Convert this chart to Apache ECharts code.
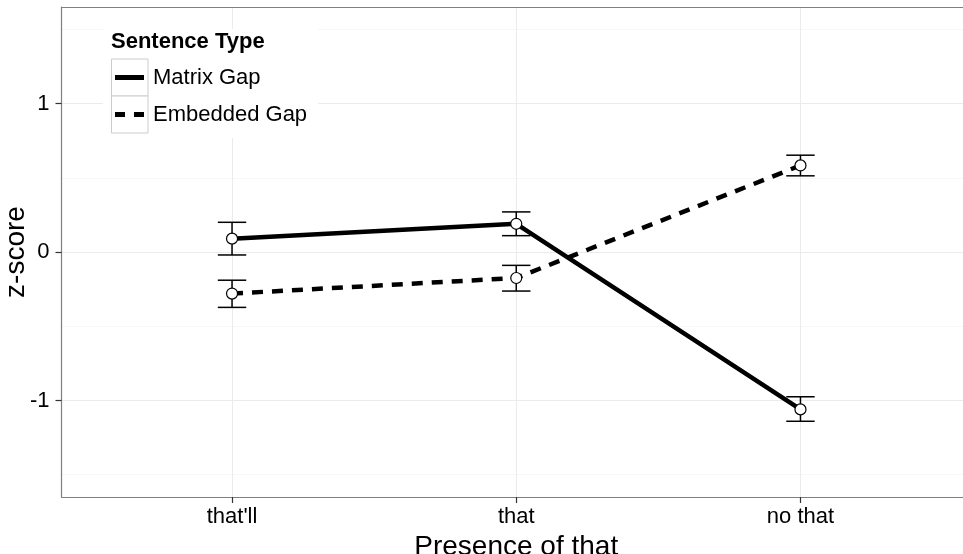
<!DOCTYPE html>
<html>
<head>
<meta charset="utf-8">
<script src="https://cdn.jsdelivr.net/npm/echarts@6/dist/echarts.min.js"></script>
<style>html,body{margin:0;padding:0;background:#fff}#c{width:963px;height:554px}</style>
</head>
<body>
<div id="c"></div>
<script>
// ---- data ----
const categories = ["that'll", "that", "no that"];
const seriesNames = ["Matrix Gap", "Embedded Gap"];
const matrixMean = [0.09, 0.19, -1.06];
const matrixLow = [-0.02, 0.11, -1.14];
const matrixHigh = [0.20, 0.27, -0.975];
const embeddedMean = [-0.28, -0.175, 0.583];
const embeddedLow = [-0.373, -0.263, 0.513];
const embeddedHigh = [-0.19, -0.09, 0.652];
const yTicks = [-1, 0, 1];
const yMinorTicks = [-1.5, -0.5, 0.5, 1.5];
const xTicks = categories.map((c, i) => i);

const FONT = '"Liberation Sans", Arial, Helvetica, sans-serif';
const BORDER = { show: true, onZero: false, lineStyle: { color: '#7f7f7f', width: 1.2 } };

function pts(mean) { return mean.map((v, i) => [i, v]); }
function bars(low, high) { return low.map((v, i) => [i, v, high[i]]); }

function errRender(params, api) {
  const x = api.value(0), lo = api.value(1), hi = api.value(2);
  const pLo = api.coord([x, lo]), pHi = api.coord([x, hi]);
  const cL1 = api.coord([x - 0.05, lo]), cR1 = api.coord([x + 0.05, lo]);
  const cL2 = api.coord([x - 0.05, hi]), cR2 = api.coord([x + 0.05, hi]);
  const st = { stroke: '#000', lineWidth: 1.5 };
  return {
    type: 'group',
    children: [
      { type: 'line', shape: { x1: pLo[0], y1: pLo[1], x2: pHi[0], y2: pHi[1] }, style: st },
      { type: 'line', shape: { x1: cL1[0], y1: cL1[1], x2: cR1[0], y2: cR1[1] }, style: st },
      { type: 'line', shape: { x1: cL2[0], y1: cL2[1], x2: cR2[0], y2: cR2[1] }, style: st }
    ]
  };
}

const chart = echarts.init(document.getElementById('c'), null, { renderer: 'canvas' });
chart.setOption({
  animation: false,
  backgroundColor: '#fff',
  textStyle: { fontFamily: FONT },
  grid: {
    left: 61.5, top: 7, right: -8, bottom: 57,
    show: false, containLabel: false, outerBoundsMode: 'none'
  },
  xAxis: [{
    type: 'value', min: -0.6, max: 2.6, position: 'bottom',
    name: 'Presence of that', nameLocation: 'middle', nameGap: 28,
    nameTextStyle: { fontSize: 28, color: '#000', fontFamily: FONT },
    axisLine: BORDER,
    axisTick: { show: true, length: 6, customValues: xTicks, lineStyle: { color: '#333', width: 1.2 } },
    axisLabel: { customValues: xTicks, margin: 9, fontSize: 22, color: '#000', fontFamily: FONT,
      formatter: v => categories[Math.round(v)] },
    splitLine: { show: true, lineStyle: { color: '#ebebeb', width: 1 } }
  }, {
    type: 'value', min: -0.6, max: 2.6, position: 'top',
    axisLine: BORDER,
    axisTick: { show: false }, axisLabel: { show: false }, splitLine: { show: false }
  }],
  yAxis: [{
    type: 'value', min: -1.65, max: 1.65, position: 'left',
    name: 'z-score', nameLocation: 'middle', nameGap: 31, nameRotate: 90, nameMoveOverlap: false,
    nameTextStyle: { fontSize: 28, color: '#000', fontFamily: FONT },
    axisLine: BORDER,
    axisTick: { show: true, length: 6, customValues: yTicks, lineStyle: { color: '#333', width: 1.2 } },
    axisLabel: { customValues: yTicks, margin: 12, fontSize: 22, color: '#000', fontFamily: FONT,
      formatter: v => String(Math.round(v)) },
    splitLine: { show: true, lineStyle: { color: '#ebebeb', width: 1 } }
  }, {
    type: 'value', min: -1.65, max: 1.65, position: 'left',
    axisLine: { show: false, onZero: false },
    axisTick: { show: false, customValues: yMinorTicks },
    axisLabel: { show: false, customValues: yMinorTicks },
    splitLine: { show: true, lineStyle: { color: '#f7f7f7', width: 1 } }
  }],
  legend: {
    orient: 'vertical', left: 115, top: 59, padding: 0, itemGap: 0,
    itemWidth: 29, itemHeight: 5,
    textStyle: { fontSize: 22, color: '#000', fontFamily: FONT, lineHeight: 37, padding: [0, 0, 0, 4] },
    data: [
      { name: seriesNames[0], icon: 'path://M0,0H29V5H0Z', itemStyle: { color: '#000', borderWidth: 0 } },
      { name: seriesNames[1], icon: 'path://M0,0H10V5H0Z M19,0H29V5H19Z', itemStyle: { color: '#000', borderWidth: 0 } }
    ],
    selectedMode: false, z: 10
  },
  graphic: [
    { type: 'rect', z: 5, shape: { x: 103, y: 29, width: 215, height: 109 }, style: { fill: '#fff' } },
    { type: 'rect', z: 6, shape: { x: 111.5, y: 59, width: 36.5, height: 37 }, style: { fill: '#fff', stroke: '#cccccc', lineWidth: 1 } },
    { type: 'rect', z: 6, shape: { x: 111.5, y: 96, width: 36.5, height: 37 }, style: { fill: '#fff', stroke: '#cccccc', lineWidth: 1 } },
    { type: 'text', z: 7, left: 111, top: 31, style: { text: 'Sentence Type', font: 'bold 22px ' + FONT, fill: '#000' } }
  ],
  series: [
    { type: 'custom', name: 'errM', renderItem: errRender, data: bars(matrixLow, matrixHigh), encode: { x: 0, y: [1, 2] }, z: 2, silent: true },
    { type: 'custom', name: 'errE', renderItem: errRender, data: bars(embeddedLow, embeddedHigh), encode: { x: 0, y: [1, 2] }, z: 2, silent: true },
    { type: 'line', name: seriesNames[0], data: pts(matrixMean), showSymbol: false, lineStyle: { color: '#000', width: 4.5 }, itemStyle: { color: '#000' }, z: 3 },
    { type: 'line', name: seriesNames[1], data: pts(embeddedMean), showSymbol: false, lineStyle: { color: '#000', width: 4.5, type: [11, 9] }, itemStyle: { color: '#000' }, z: 3 },
    { type: 'scatter', name: 'ptsM', data: pts(matrixMean), symbol: 'circle', symbolSize: 11, itemStyle: { color: '#fff', borderColor: '#000', borderWidth: 1.2, opacity: 1 }, z: 4 },
    { type: 'scatter', name: 'ptsE', data: pts(embeddedMean), symbol: 'circle', symbolSize: 11, itemStyle: { color: '#fff', borderColor: '#000', borderWidth: 1.2, opacity: 1 }, z: 4 }
  ]
});
</script>
</body>
</html>
